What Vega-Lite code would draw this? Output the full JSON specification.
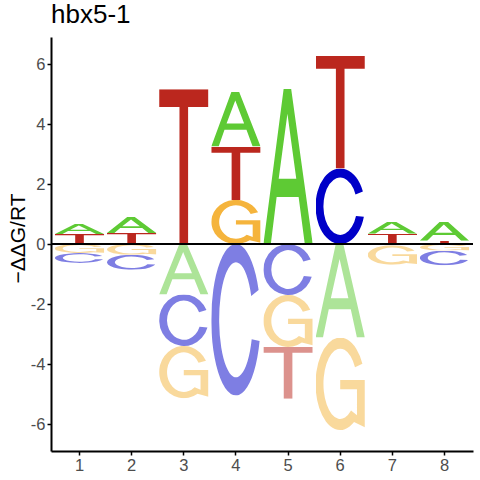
{
  "$schema": "https://vega.github.io/schema/vega-lite/v6.json",
  "width": 422,
  "height": 414,
  "autosize": "none",
  "padding": {"left": 51, "top": 37, "right": 7, "bottom": 29},
  "background": "white",
  "config": {"view": {"stroke": null}, "font": "Liberation Sans"},
  "title": {
    "text": "hbx5-1",
    "anchor": "start",
    "frame": "group",
    "font": "Liberation Sans",
    "fontSize": 26,
    "fontWeight": "normal",
    "color": "black",
    "baseline": "alphabetic",
    "offset": 10,
    "dy": 22
  },
  "datasets": {
    "letters": [
      {"pos": 1, "letter": "T", "value": 0.33},
      {"pos": 1, "letter": "A", "value": 0.34},
      {"pos": 1, "letter": "G", "value": -0.30},
      {"pos": 1, "letter": "C", "value": -0.33},
      {"pos": 2, "letter": "T", "value": 0.37},
      {"pos": 2, "letter": "A", "value": 0.53},
      {"pos": 2, "letter": "G", "value": -0.36},
      {"pos": 2, "letter": "C", "value": -0.50},
      {"pos": 3, "letter": "T", "value": 5.16},
      {"pos": 3, "letter": "A", "value": -1.68},
      {"pos": 3, "letter": "C", "value": -1.72},
      {"pos": 3, "letter": "G", "value": -1.74},
      {"pos": 4, "letter": "G", "value": 1.47},
      {"pos": 4, "letter": "T", "value": 1.78},
      {"pos": 4, "letter": "A", "value": 1.83},
      {"pos": 4, "letter": "C", "value": -5.05},
      {"pos": 5, "letter": "A", "value": 5.17},
      {"pos": 5, "letter": "C", "value": -1.70},
      {"pos": 5, "letter": "G", "value": -1.73},
      {"pos": 5, "letter": "T", "value": -1.73},
      {"pos": 6, "letter": "C", "value": 2.52},
      {"pos": 6, "letter": "T", "value": 3.75},
      {"pos": 6, "letter": "A", "value": -3.12},
      {"pos": 6, "letter": "G", "value": -3.08},
      {"pos": 7, "letter": "T", "value": 0.34},
      {"pos": 7, "letter": "A", "value": 0.41},
      {"pos": 7, "letter": "C", "value": -0.04},
      {"pos": 7, "letter": "G", "value": -0.65},
      {"pos": 8, "letter": "T", "value": 0.11},
      {"pos": 8, "letter": "A", "value": 0.64},
      {"pos": 8, "letter": "G", "value": -0.22},
      {"pos": 8, "letter": "C", "value": -0.49}
    ],
    "glyphs": [
      {"letter": "A", "url": "data:image/svg+xml,<svg%20xmlns='http://www.w3.org/2000/svg'%20viewBox='0%200%20100%20100'%20preserveAspectRatio='none'><path%20fill-rule='evenodd'%20fill='%235ECA34'%20d='M0,100L41,0L56.3,0L100,100L83.9,100L71.4,69.7L26.8,69.7L15,100ZM31,58L66.6,58L48.7,16Z'/></svg>"},
      {"letter": "C", "url": "data:image/svg+xml,<svg%20xmlns='http://www.w3.org/2000/svg'%20viewBox='0%200%20100%20100'%20preserveAspectRatio='none'><path%20fill='%230000C8'%20d='M96,30.4A50,50,0,1,0,98,64L82,62.8A34,38,0,1,1,81,34.4Z'/></svg>"},
      {"letter": "G", "url": "data:image/svg+xml,<svg%20xmlns='http://www.w3.org/2000/svg'%20viewBox='0%200%20100%20100'%20preserveAspectRatio='none'><path%20fill='%23F5B43C'%20d='M95,28.2A50,50,0,1,0,78,91.4L100,97L100,46L50,46L50,56L84,56L84,84L72,79A34,38,0,1,1,80,32.1Z'/></svg>"},
      {"letter": "T", "url": "data:image/svg+xml,<svg%20xmlns='http://www.w3.org/2000/svg'%20viewBox='0%200%20100%20100'%20preserveAspectRatio='none'><path%20fill='%23BB271E'%20d='M0,0L100,0L100,11.5L58.75,11.5L58.75,100L41.25,100L41.25,11.5L0,11.5Z'/></svg>"}
    ]
  },
  "data": {"name": "letters"},
  "transform": [
    {"stack": "value", "groupby": ["pos"], "as": ["y0", "y1"]},
    {"lookup": "letter", "from": {"data": {"name": "glyphs"}, "key": "letter", "fields": ["url"]}}
  ],
  "layer": [
    {
      "mark": {"type": "image", "aspect": false},
      "encoding": {
        "x": {
          "field": "pos",
          "type": "ordinal",
          "scale": {"paddingInner": 0.0545, "paddingOuter": 0.074},
          "axis": {
            "title": null,
            "labelAngle": 0,
            "grid": false,
            "domainColor": "black",
            "domainWidth": 2,
            "tickColor": "black",
            "tickWidth": 1.5,
            "tickSize": 4,
            "labelFont": "Liberation Sans",
            "labelColor": "#4D4D4D",
            "labelFontSize": 16.5,
            "labelPadding": 2
          }
        },
        "y": {
          "field": "y1",
          "type": "quantitative",
          "scale": {"domain": [-6.9, 6.9], "nice": false, "zero": false},
          "axis": {
            "title": "−ΔΔG/RT",
            "values": [-6, -4, -2, 0, 2, 4, 6],
            "labelExpr": "'' + datum.value",
            "grid": false,
            "domainColor": "black",
            "domainWidth": 2,
            "tickColor": "black",
            "tickWidth": 1.5,
            "tickSize": 4,
            "labelFont": "Liberation Sans",
            "labelColor": "#4D4D4D",
            "labelFontSize": 16.5,
            "labelPadding": 2,
            "titleFont": "Liberation Sans",
            "titleFontSize": 21,
            "titleFontWeight": "normal",
            "titleColor": "black",
            "titleAngle": -90,
            "titleAlign": "center",
            "titleBaseline": "alphabetic",
            "titleX": -27,
            "titleY": 201
          }
        },
        "y2": {"field": "y0"},
        "url": {"field": "url", "type": "nominal"},
        "opacity": {"condition": {"test": "datum.value < 0", "value": 0.5}, "value": 1}
      }
    },
    {
      "mark": {"type": "rule", "color": "black", "strokeWidth": 1},
      "encoding": {"y": {"datum": 0}}
    }
  ]
}
